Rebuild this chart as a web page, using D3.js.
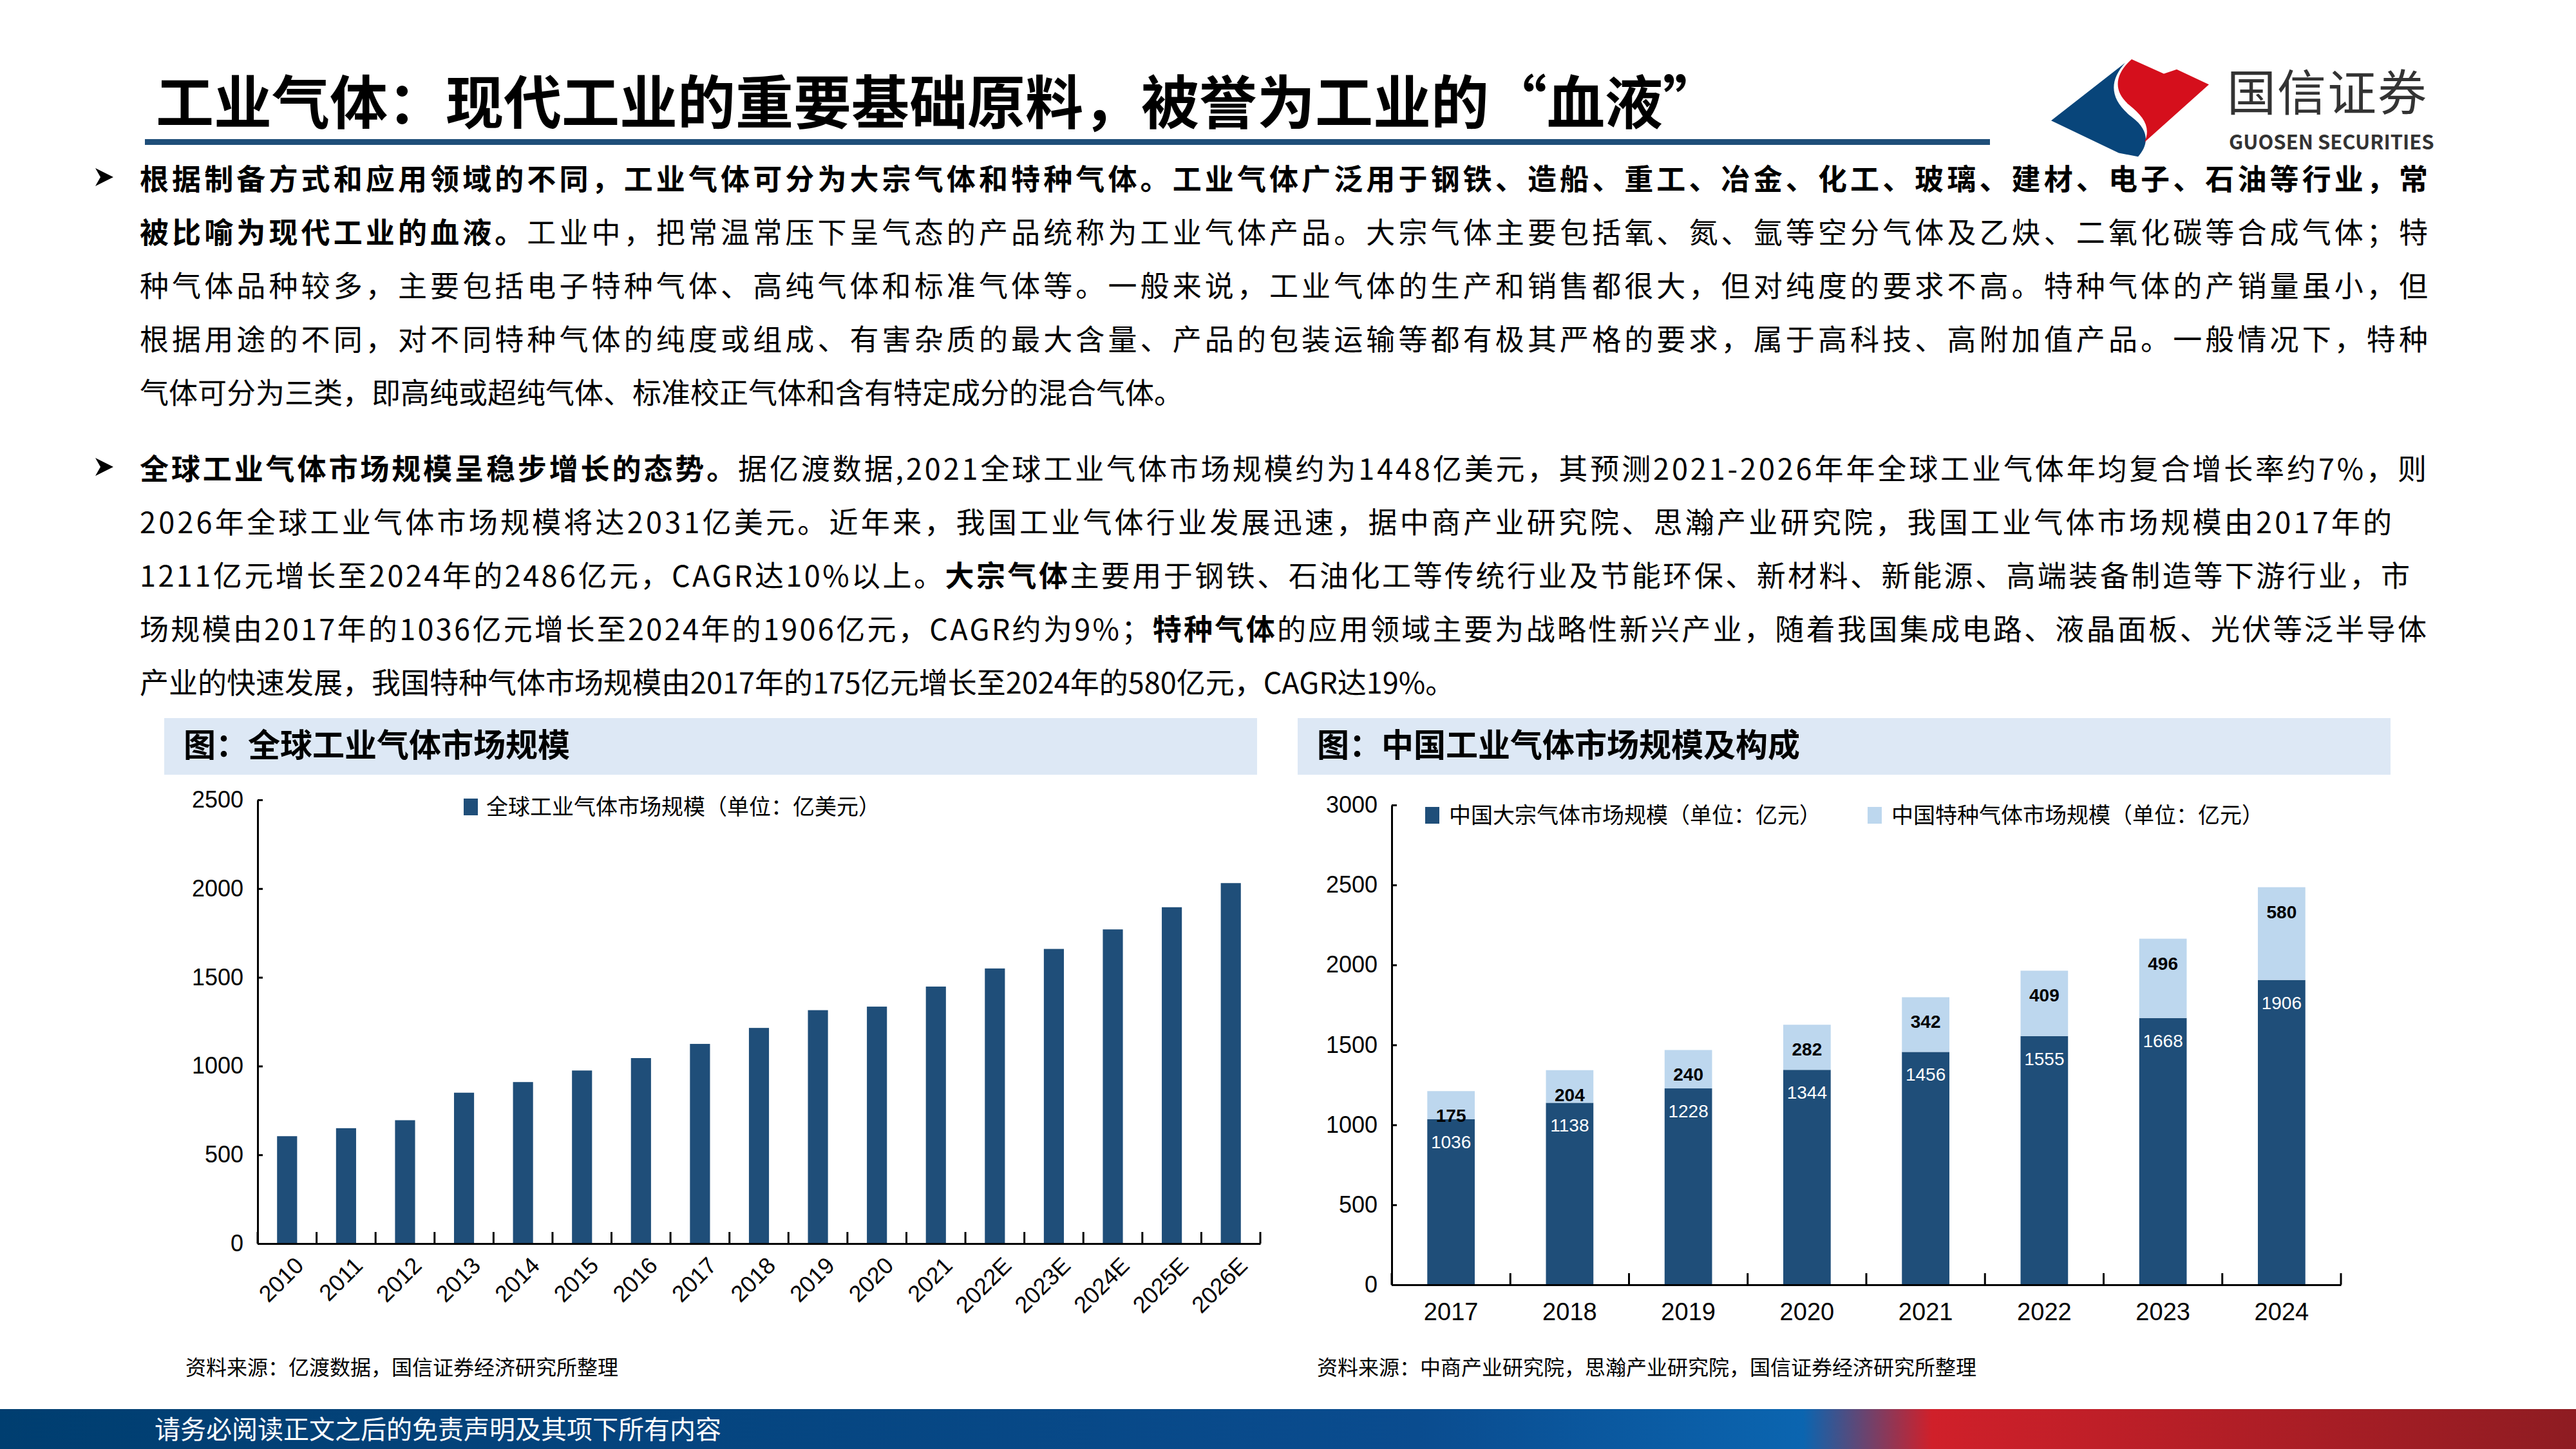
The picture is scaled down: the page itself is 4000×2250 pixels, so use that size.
<!DOCTYPE html>
<html><head><meta charset="utf-8">
<script src="https://cdn.jsdelivr.net/npm/d3@7"></script>
<style>
body{margin:0;background:#fff}
svg text{font-family:"Noto Sans CJK SC","Noto Sans",sans-serif}
.num{font-family:"Liberation Sans Narrow","Liberation Sans","Noto Sans CJK SC",sans-serif}
</style></head><body>
<svg id="page" width="4000" height="2250"></svg>
<script>
// global market, 100M USD
const globalYears = ['2010','2011','2012','2013','2014','2015','2016','2017','2018','2019','2020','2021','2022E','2023E','2024E','2025E','2026E'];
const globalValues = [605,650,695,850,910,975,1045,1125,1215,1315,1335,1448,1550,1660,1770,1895,2031];
// China market, 100M CNY
const chinaYears = ['2017','2018','2019','2020','2021','2022','2023','2024'];
const bulkValues = [1036,1138,1228,1344,1456,1555,1668,1906];
const specialValues = [175,204,240,282,342,409,496,580];
const globalTicks = [0,500,1000,1500,2000,2500];
const chinaTicks = [0,500,1000,1500,2000,2500,3000];

const dark = '#1f4e79', light = '#bdd7ee';
const svg = d3.select('#page');

// header
svg.append('text').attr('x',242).attr('y',192).attr('font-size',90).attr('font-weight',700).attr('fill','#000')
  .text('工业气体：现代工业的重要基础原料，被誉为工业的“血液”');
svg.append('rect').attr('x',225).attr('y',216).attr('width',2865).attr('height',9).attr('fill','#1f4e79');

// logo
const logo = svg.append('g').attr('transform','translate(3180,92) scale(1,0.56)');
logo.append('path').attr('d','M120,10 C95,60 95,110 130,160 C160,200 155,240 140,270 L110,260 L5,170 Z').attr('fill','#08457a');
logo.append('path').attr('d','M130,0 L180,40 L200,28 L250,70 L150,230 C160,190 150,160 125,125 C100,85 105,40 130,0 Z').attr('fill','#d50f1c');
svg.append('text').attr('x',3458).attr('y',172).attr('font-size',76).attr('fill','#333').attr('letter-spacing',2).text('国信证券');
svg.append('text').attr('x',3461).attr('y',232).attr('font-size',31).attr('font-weight',700).attr('fill','#333').text('GUOSEN SECURITIES');

// paragraphs: [segments, endX or null]
const paras = [
  {y:295, lines:[
    [[['b','根据制备方式和应用领域的不同，工业气体可分为大宗气体和特种气体。工业气体广泛用于钢铁、造船、重工、冶金、化工、玻璃、建材、电子、石油等行业，常']],3770],
    [[['b','被比喻为现代工业的血液。'],['n','工业中，把常温常压下呈气态的产品统称为工业气体产品。大宗气体主要包括氧、氮、氩等空分气体及乙炔、二氧化碳等合成气体；特']],3770],
    [[['n','种气体品种较多，主要包括电子特种气体、高纯气体和标准气体等。一般来说，工业气体的生产和销售都很大，但对纯度的要求不高。特种气体的产销量虽小，但']],3770],
    [[['n','根据用途的不同，对不同特种气体的纯度或组成、有害杂质的最大含量、产品的包装运输等都有极其严格的要求，属于高科技、高附加值产品。一般情况下，特种']],3770],
    [[['n','气体可分为三类，即高纯或超纯气体、标准校正气体和含有特定成分的混合气体。']],null]]},
  {y:745, lines:[
    [[['b','全球工业气体市场规模呈稳步增长的态势。'],['n','据亿渡数据,2021全球工业气体市场规模约为1448亿美元，其预测2021-2026年年全球工业气体年均复合增长率约7%，则']],3768],
    [[['n','2026年全球工业气体市场规模将达2031亿美元。近年来，我国工业气体行业发展迅速，据中商产业研究院、思瀚产业研究院，我国工业气体市场规模由2017年的']],3714],
    [[['n','1211亿元增长至2024年的2486亿元，CAGR达10%以上。'],['b','大宗气体'],['n','主要用于钢铁、石油化工等传统行业及节能环保、新材料、新能源、高端装备制造等下游行业，市']],3742],
    [[['n','场规模由2017年的1036亿元增长至2024年的1906亿元，CAGR约为9%；'],['b','特种气体'],['n','的应用领域主要为战略性新兴产业，随着我国集成电路、液晶面板、光伏等泛半导体']],3768],
    [[['n','产业的快速发展，我国特种气体市场规模由2017年的175亿元增长至2024年的580亿元，CAGR达19%。']],null]]}
];
paras.forEach(p => {
  svg.append('path').attr('d',`M148,${p.y-34} L176,${p.y-20} L148,${p.y-6} L156,${p.y-20} Z`).attr('fill','#000');
  p.lines.forEach((ln,i) => {
    const t = svg.append('text').attr('x',217).attr('y',p.y+i*83).attr('font-size',45).attr('fill','#000');
    ln[0].forEach(s => t.append('tspan').attr('font-weight',s[0]==='b'?700:400).text(s[1]));
    if (ln[1]) t.attr('textLength',ln[1]-217).attr('lengthAdjust','spacing');
  });
});

// panel headers
[[255,'图：全球工业气体市场规模'],[2015,'图：中国工业气体市场规模及构成']].forEach(([x,txt]) => {
  svg.append('rect').attr('x',x).attr('y',1115).attr('width',1697).attr('height',88).attr('fill','#dde8f5');
  svg.append('text').attr('x',x+30).attr('y',1175).attr('font-size',50).attr('font-weight',700).text(txt);
});

function styleAxis(g){
  g.selectAll('path,line').attr('stroke','#000').attr('stroke-width',3);
  g.selectAll('text').attr('class','num').attr('font-size',36).attr('fill','#000');
}

// left chart
{
  const x = d3.scaleBand().domain(globalYears).range([400,1957]).paddingInner(0.66).paddingOuter(0.33);
  const y = d3.scaleLinear().domain([0,2500]).range([1931,1242]);
  const gy = svg.append('g').attr('transform','translate(400,0)').call(d3.axisLeft(y).tickValues(globalTicks).tickFormat(d3.format('d')).tickSize(8).tickSizeOuter(0).tickPadding(14));
  styleAxis(gy); gy.selectAll('line').attr('x2',8);
  svg.selectAll('.gbar').data(globalValues).join('rect').attr('class','gbar')
    .attr('x',(d,i)=>x(globalYears[i])).attr('y',d=>y(d)).attr('width',x.bandwidth()).attr('height',d=>1931-y(d)).attr('fill',dark);
  const gx = svg.append('g').attr('transform','translate(0,1931)').call(d3.axisBottom(x).tickSize(0).tickPadding(26));
  styleAxis(gx);
  gx.selectAll('.tick text').attr('text-anchor','end').attr('transform','rotate(-45) translate(-6,-6)');
  const step = x.step();
  svg.selectAll('.gsep').data(d3.range(globalYears.length+1)).join('line')
    .attr('x1',i=>400+i*step).attr('x2',i=>400+i*step).attr('y1',1931).attr('y2',1913).attr('stroke','#000').attr('stroke-width',3);
  svg.append('rect').attr('x',720).attr('y',1240).attr('width',22).attr('height',26).attr('fill',dark);
  svg.append('text').attr('x',755).attr('y',1265).attr('font-size',34).text('全球工业气体市场规模（单位：亿美元）');
  svg.append('text').attr('x',288).attr('y',2135).attr('font-size',32).text('资料来源：亿渡数据，国信证券经济研究所整理');
}

// right chart
{
  const x = d3.scaleBand().domain(chinaYears).range([2161,3635]).paddingInner(0.6).paddingOuter(0.3);
  const y = d3.scaleLinear().domain([0,3000]).range([1995,1250]);
  const gy = svg.append('g').attr('transform','translate(2161,0)').call(d3.axisLeft(y).tickValues(chinaTicks).tickFormat(d3.format('d')).tickSize(8).tickSizeOuter(0).tickPadding(14));
  styleAxis(gy); gy.selectAll('line').attr('x2',8);
  const bw = x.bandwidth();
  svg.selectAll('.bb').data(bulkValues).join('rect').attr('class','bb')
    .attr('x',(d,i)=>x(chinaYears[i])).attr('y',d=>y(d)).attr('width',bw).attr('height',d=>1995-y(d)).attr('fill',dark);
  svg.selectAll('.sb').data(specialValues).join('rect').attr('class','sb')
    .attr('x',(d,i)=>x(chinaYears[i])).attr('y',(d,i)=>y(bulkValues[i]+d)).attr('width',bw)
    .attr('height',(d,i)=>y(bulkValues[i])-y(bulkValues[i]+d)).attr('fill',light);
  svg.selectAll('.bl').data(bulkValues).join('text').attr('class','num')
    .attr('x',(d,i)=>x(chinaYears[i])+bw/2).attr('y',d=>y(d)+45).attr('text-anchor','middle')
    .attr('font-size',28).attr('fill','#fff').text(d=>d);
  svg.selectAll('.sl').data(specialValues).join('text').attr('class','num')
    .attr('x',(d,i)=>x(chinaYears[i])+bw/2).attr('y',(d,i)=>y(bulkValues[i]+d)+48).attr('text-anchor','middle')
    .attr('font-size',28).attr('font-weight',700).attr('fill','#000').text(d=>d);
  const gx = svg.append('g').attr('transform','translate(0,1995)').call(d3.axisBottom(x).tickSize(0).tickPadding(28));
  styleAxis(gx); gx.selectAll('text').attr('font-size',38);
  const step = x.step();
  svg.selectAll('.csep').data(d3.range(chinaYears.length+1)).join('line')
    .attr('x1',i=>2161+i*step).attr('x2',i=>2161+i*step).attr('y1',1995).attr('y2',1977).attr('stroke','#000').attr('stroke-width',3);
  svg.append('rect').attr('x',2213).attr('y',1253).attr('width',22).attr('height',26).attr('fill',dark);
  svg.append('text').attr('x',2250).attr('y',1278).attr('font-size',34).text('中国大宗气体市场规模（单位：亿元）');
  svg.append('rect').attr('x',2900).attr('y',1253).attr('width',22).attr('height',26).attr('fill',light);
  svg.append('text').attr('x',2937).attr('y',1278).attr('font-size',34).text('中国特种气体市场规模（单位：亿元）');
  svg.append('text').attr('x',2045).attr('y',2135).attr('font-size',32).text('资料来源：中商产业研究院，思瀚产业研究院，国信证券经济研究所整理');
}

// footer
const grad = svg.append('defs').append('linearGradient').attr('id','fg');
[[0,'#003e70'],[0.55,'#0a4c8f'],[0.7,'#0b65b0'],[0.75,'#d0202a'],[1,'#8e1c22']].forEach(([o,c]) =>
  grad.append('stop').attr('offset',o).attr('stop-color',c));
svg.append('rect').attr('x',0).attr('y',2188).attr('width',4000).attr('height',62).attr('fill','url(#fg)');
svg.append('text').attr('x',240).attr('y',2234).attr('font-size',40).attr('fill','#fff').text('请务必阅读正文之后的免责声明及其项下所有内容');
</script></body></html>
